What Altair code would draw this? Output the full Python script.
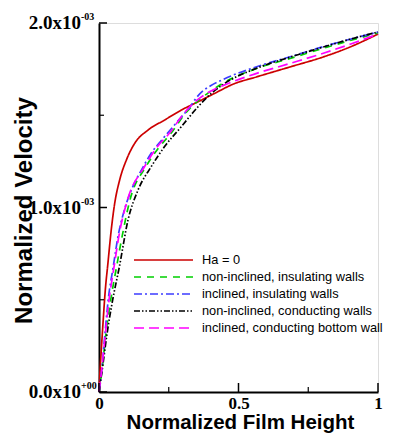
import altair as alt
import pandas as pd

series_names = [
    "Ha = 0",
    "non-inclined, insulating walls",
    "inclined, insulating walls",
    "non-inclined, conducting walls",
    "inclined, conducting bottom wall",
]
colors = ["#cc0000", "#00d000", "#3c3cff", "#000000", "#ff00ff"]
dashes = [[1, 0], [7, 6], [8, 3, 2, 3], [6, 2, 1.5, 2, 1.5, 2], [10, 5]]

red_x = [0, 0.0025, 0.0082, 0.0143, 0.0226, 0.032, 0.044, 0.056, 0.074, 0.098, 0.128, 0.176, 0.235, 0.295, 0.355, 0.415, 0.48, 0.565, 0.685, 0.804, 0.90, 1.0]
red_y = [0, 0.083e-3, 0.228e-3, 0.372e-3, 0.553e-3, 0.698e-3, 0.880e-3, 1.020e-3, 1.149e-3, 1.257e-3, 1.348e-3, 1.420e-3, 1.474e-3, 1.528e-3, 1.573e-3, 1.619e-3, 1.668e-3, 1.708e-3, 1.762e-3, 1.816e-3, 1.870e-3, 1.940e-3]

green_x = [0, 0.012, 0.025, 0.042, 0.063, 0.085, 0.111, 0.168, 0.212, 0.258, 0.31, 0.36, 0.40, 0.446, 0.565, 0.685, 0.804, 0.90, 1.0]
green_y = [0, 0.137e-3, 0.318e-3, 0.499e-3, 0.679e-3, 0.860e-3, 1.041e-3, 1.221e-3, 1.320e-3, 1.402e-3, 1.511e-3, 1.585e-3, 1.630e-3, 1.675e-3, 1.754e-3, 1.808e-3, 1.863e-3, 1.905e-3, 1.946e-3]

blue_x = [0, 0.011, 0.0215, 0.033, 0.051, 0.069, 0.086, 0.116, 0.152, 0.187, 0.235, 0.295, 0.326, 0.349, 0.375, 0.40, 0.446, 0.565, 0.685, 0.804, 0.90, 1.0]
blue_y = [0, 0.137e-3, 0.318e-3, 0.499e-3, 0.679e-3, 0.850e-3, 0.960e-3, 1.095e-3, 1.203e-3, 1.294e-3, 1.384e-3, 1.490e-3, 1.545e-3, 1.595e-3, 1.635e-3, 1.660e-3, 1.695e-3, 1.763e-3, 1.817e-3, 1.872e-3, 1.912e-3, 1.951e-3]

black_x = [0, 0.013, 0.029, 0.049, 0.073, 0.104, 0.140, 0.187, 0.235, 0.295, 0.355, 0.403, 0.446, 0.565, 0.685, 0.804, 0.90, 1.0]
black_y = [0, 0.137e-3, 0.318e-3, 0.499e-3, 0.679e-3, 0.932e-3, 1.095e-3, 1.221e-3, 1.330e-3, 1.438e-3, 1.546e-3, 1.619e-3, 1.668e-3, 1.755e-3, 1.815e-3, 1.870e-3, 1.912e-3, 1.951e-3]

magenta_x = [0, 0.011, 0.023, 0.036, 0.054, 0.073, 0.102, 0.163, 0.207, 0.252, 0.305, 0.35, 0.40, 0.446, 0.565, 0.685, 0.804, 0.90, 1.0]
magenta_y = [0, 0.137e-3, 0.318e-3, 0.499e-3, 0.679e-3, 0.860e-3, 1.041e-3, 1.221e-3, 1.325e-3, 1.402e-3, 1.511e-3, 1.580e-3, 1.630e-3, 1.662e-3, 1.727e-3, 1.781e-3, 1.836e-3, 1.885e-3, 1.940e-3]

y_major = [0, 0.001, 0.002]
y_major_main = ["0.0x10", "1.0x10", "2.0x10"]
y_major_sup = ["+00", "-03", "-03"]
y_minor = [0.0005, 0.0015]
x_major = [0, 0.5, 1]
x_minor = [0.25, 0.75]

rows = []
for name, xs_, ys_ in zip(series_names,
                          [red_x, green_x, blue_x, black_x, magenta_x],
                          [red_y, green_y, blue_y, black_y, magenta_y]):
    for xv, yv in zip(xs_, ys_):
        rows.append({"series": name, "x": xv, "y": yv})
df = pd.DataFrame(rows)

leg_df = pd.DataFrame({"series": series_names, "row": list(range(len(series_names)))})
ytick_major_df = pd.DataFrame({"y": y_major, "main": y_major_main, "sup": y_major_sup})
ytick_minor_df = pd.DataFrame({"y": y_minor})
xtick_major_df = pd.DataFrame({"x": x_major})
xtick_minor_df = pd.DataFrame({"x": x_minor})

color_scale = alt.Scale(domain=series_names, range=colors)
dash_scale = alt.Scale(domain=series_names, range=dashes)
xs = alt.Scale(domain=[0, 1], nice=False, zero=False)
ys = alt.Scale(domain=[0, 0.002], nice=False, zero=False)

lines = alt.Chart(df).mark_line(strokeWidth=1.7, interpolate="monotone").encode(
    x=alt.X("x:Q", scale=xs, axis=alt.Axis(
        title="Normalized Film Height", values=x_major,
        labelExpr="datum.value == 0.5 ? '0.5' : format(datum.value, 'd')",
        ticks=False, tickSize=0, grid=False, domainColor="black", domainWidth=2,
        labelFont="Liberation Serif", labelFontWeight="bold", labelFontSize=17, labelColor="black",
        labelBaseline="middle", labelPadding=11, labelFlush=False, labelOverlap=False,
        titleFont="Liberation Sans", titleFontWeight="bold", titleFontSize=20.5, titleColor="black",
        titleBaseline="alphabetic", titleY=36.5, titleX=141)),
    y=alt.Y("y:Q", scale=ys, axis=alt.Axis(
        title="Normalized Velocity", labels=False, ticks=False, tickSize=0, grid=False,
        domainColor="black", domainWidth=2,
        titleFont="Liberation Sans", titleFontWeight="bold", titleFontSize=24, titleColor="black",
        titleAngle=270, titleBaseline="middle", titleAlign="center", titleX=-75, titleY=187)),
    color=alt.Color("series:N", scale=color_scale, legend=None),
    strokeDash=alt.StrokeDash("series:N", scale=dash_scale, legend=None),
)

ytick_major = alt.Chart(ytick_major_df).mark_rule(color="black", strokeWidth=1.5).encode(
    y=alt.Y("y:Q", scale=ys), x=alt.value(0), x2=alt.value(8))
ytick_minor = alt.Chart(ytick_minor_df).mark_rule(color="black", strokeWidth=1.2).encode(
    y=alt.Y("y:Q", scale=ys), x=alt.value(0), x2=alt.value(5))
xtick_major = alt.Chart(xtick_major_df).mark_rule(color="black", strokeWidth=1.5).encode(
    x=alt.X("x:Q", scale=xs), y=alt.value(369), y2=alt.value(360))
xtick_minor = alt.Chart(xtick_minor_df).mark_rule(color="black", strokeWidth=1.2).encode(
    x=alt.X("x:Q", scale=xs), y=alt.value(369), y2=alt.value(364))

ylab_main = alt.Chart(ytick_major_df).mark_text(
    font="Liberation Serif", fontWeight="bold", fontSize=19, align="right", baseline="middle", color="black"
).encode(y=alt.Y("y:Q", scale=ys), x=alt.value(-18), text="main:N")
ylab_sup = alt.Chart(ytick_major_df).mark_text(
    font="Liberation Serif", fontWeight="bold", fontSize=10, align="left", baseline="middle", dy=-6, color="black"
).encode(y=alt.Y("y:Q", scale=ys), x=alt.value(-18), text="sup:N")

leg_base = alt.Chart(leg_df).transform_calculate(ly="237 + datum.row * 17")
leg_lines = leg_base.mark_rule(strokeWidth=1.7).encode(
    x=alt.value(35), x2=alt.value(94), y=alt.Y("ly:Q", scale=None),
    color=alt.Color("series:N", scale=color_scale, legend=None),
    strokeDash=alt.StrokeDash("series:N", scale=dash_scale, legend=None),
)
leg_text = leg_base.mark_text(
    font="Liberation Sans", fontSize=12.8, align="left", baseline="middle", color="black"
).encode(x=alt.value(103), y=alt.Y("ly:Q", scale=None), text="series:N")

chart = alt.layer(
    lines, ytick_major, ytick_minor, xtick_major, xtick_minor, ylab_main, ylab_sup, leg_lines, leg_text
).properties(
    width=279, height=369,
    autosize=alt.AutoSizeParams(type="none"),
    padding={"left": 91, "top": 15, "right": 10, "bottom": 41},
).configure_view(stroke=None).configure(background="white")

chart.save("out.html", embed_options={"renderer": "svg", "actions": False})
